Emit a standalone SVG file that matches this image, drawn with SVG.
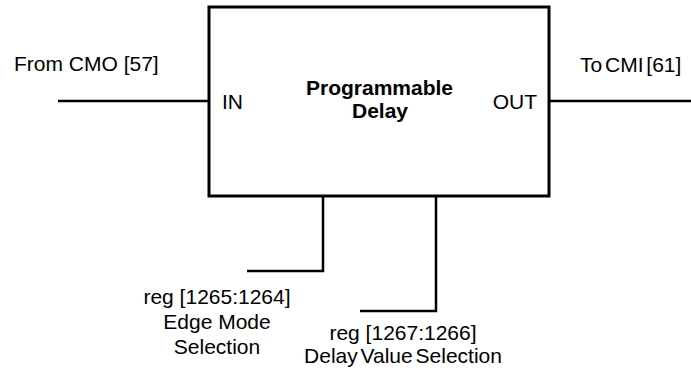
<svg xmlns="http://www.w3.org/2000/svg" width="691" height="370" viewBox="0 0 691 370">
<style>
text{font-family:"Liberation Sans",Arial,sans-serif;font-size:21px;fill:#000}
.b{font-weight:bold}
.m{text-anchor:middle}
.w{fill:none;stroke:#000;stroke-width:2.5}
</style>
<rect width="691" height="370" fill="#fff"/>
<g id="delay">
<rect x="209" y="7" width="340" height="189" fill="#fff" stroke="#000" stroke-width="3"/>
<text class="b m" x="379.5" y="95">Programmable</text>
<text class="b m" x="380" y="118">Delay</text>
<text x="222" y="109">IN</text>
<text x="537" y="109" text-anchor="end">OUT</text>
</g>
<g id="connectors">
<path class="w" d="M58 101H209"/>
<path class="w" d="M549 101H691"/>
<path class="w" d="M323 196V271H247"/>
<path class="w" d="M436 196V311H360"/>
</g>
<g id="labels">
<text x="14" y="71">From CMO [57]</text>
<text x="580" y="72" word-spacing="-3">To CMI [61]</text>
<text class="m" x="217" y="304">reg [1265:1264]</text>
<text class="m" x="217" y="329">Edge Mode</text>
<text class="m" x="217" y="354">Selection</text>
<text class="m" x="403" y="340">reg [1267:1266]</text>
<text class="m" x="403" y="363" word-spacing="-3">Delay Value Selection</text>
</g>
</svg>
